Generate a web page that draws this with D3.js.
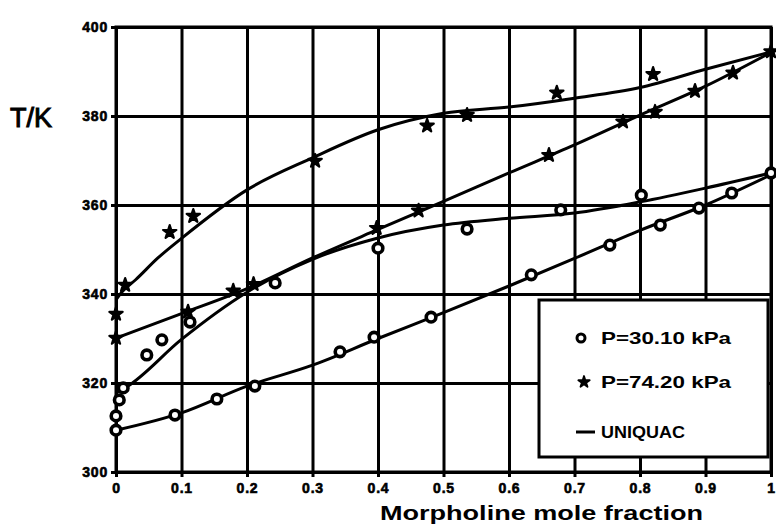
<!DOCTYPE html>
<html>
<head>
<meta charset="utf-8">
<script src="https://cdn.jsdelivr.net/npm/d3@7/dist/d3.min.js"></script>
<style>
  body { margin: 0; background: #fff; }
  text { font-family: "Liberation Sans", Arial, sans-serif; font-weight: bold; fill: #000; }
</style>
</head>
<body>
<script>
// ticks
const xTicks = [0, 0.1, 0.2, 0.3, 0.4, 0.5, 0.6, 0.7, 0.8, 0.9, 1];
const xTickLabels = ['0', '0.1', '0.2', '0.3', '0.4', '0.5', '0.6', '0.7', '0.8', '0.9', '1'];
const yTicks = [300, 320, 340, 360, 380, 400];

// experimental points, P = 30.10 kPa
const lowX = [0, 0, 0.005, 0.011, 0.047, 0.07, 0.113, 0.09, 0.154, 0.212, 0.243, 0.342, 0.394, 0.40, 0.481, 0.536, 0.634, 0.679, 0.754, 0.802, 0.831, 0.89, 0.94, 1.0];
const lowT = [309.4, 312.6, 316.2, 318.9, 326.3, 329.7, 333.7, 312.8, 316.4, 319.3, 342.5, 327.0, 330.3, 350.3, 334.8, 354.6, 344.3, 358.9, 351.0, 362.2, 355.5, 359.3, 362.7, 367.2];

// experimental points, P = 74.20 kPa
const highX = [0, 0, 0.014, 0.082, 0.118, 0.11, 0.179, 0.21, 0.304, 0.398, 0.462, 0.475, 0.536, 0.661, 0.673, 0.774, 0.82, 0.823, 0.884, 0.942, 1.0];
const highT = [330.1, 335.5, 342.0, 353.9, 357.5, 336.0, 340.7, 342.2, 369.9, 354.8, 358.7, 377.8, 380.2, 371.2, 385.2, 378.7, 389.4, 380.9, 385.6, 389.7, 394.5];

// UNIQUAC curves
const curveLowBubX = [0, 0.1, 0.2, 0.3, 0.4, 0.5, 0.6, 0.7, 0.8, 0.9, 1.0];
const curveLowBubT = [309.4, 313.3, 319.3, 324.0, 330.0, 335.8, 341.8, 348.0, 354.3, 360.0, 366.8];
const curveLowDewX = [0, 0.016, 0.1, 0.2, 0.3, 0.4, 0.5, 0.6, 0.7, 0.8, 0.9, 1.0];
const curveLowDewT = [317.8, 319.1, 329.8, 340.4, 347.8, 352.6, 355.5, 357.0, 358.2, 360.7, 363.8, 367.2];
const curveHighBubX = [0, 0.1, 0.2, 0.3, 0.4, 0.5, 0.6, 0.7, 0.8, 0.9, 1.0];
const curveHighBubT = [330.1, 335.6, 341.2, 348.1, 354.5, 360.8, 367.2, 373.5, 380.2, 386.7, 394.3];
const curveHighDewX = [0, 0.01, 0.03, 0.064, 0.1, 0.2, 0.3, 0.4, 0.5, 0.6, 0.7, 0.8, 0.9, 1.0];
const curveHighDewT = [338.7, 340.6, 343.2, 348.1, 352.5, 363.4, 370.6, 376.9, 380.6, 382.0, 384.0, 386.4, 390.5, 394.4];

const legendLabels = ['P=30.10 kPa', 'P=74.20 kPa', 'UNIQUAC'];

const margin = { top: 27, left: 116 };
const w = 655, h = 445;
const sw = 3; // line weight of the scan

const svg = d3.select('body').append('svg')
  .attr('width', 776).attr('height', 526);
const g = svg.append('g')
  .attr('transform', 'translate(' + margin.left + ',' + margin.top + ')');

const x = d3.scaleLinear().domain([0, 1]).range([0, w]);
const y = d3.scaleLinear().domain([300, 400]).range([h, 0]);

// grid
g.append('g').attr('class', 'grid')
  .attr('transform', 'translate(0,' + h + ')')
  .call(d3.axisBottom(x).tickValues(xTicks).tickSize(-h).tickFormat(''))
  .call(a => a.select('.domain').remove());
g.append('g').attr('class', 'grid')
  .call(d3.axisLeft(y).tickValues(yTicks).tickSize(-w).tickFormat(''))
  .call(a => a.select('.domain').remove());
g.selectAll('.grid line').attr('stroke', '#000').attr('stroke-width', sw);

// axes with labels
const xAxis = g.append('g')
  .attr('transform', 'translate(0,' + h + ')')
  .call(d3.axisBottom(x).tickValues(xTicks).tickSize(5).tickPadding(6)
    .tickFormat((d, i) => xTickLabels[i]));
const yAxis = g.append('g')
  .call(d3.axisLeft(y).tickValues(yTicks).tickSize(5).tickPadding(3));
[xAxis, yAxis].forEach(a => {
  a.select('.domain').attr('stroke', '#000').attr('stroke-width', sw);
  a.selectAll('line').attr('stroke', '#000').attr('stroke-width', sw);
  a.selectAll('text').style('font-size', '14px').style('font-weight', 'bold')
    .style('letter-spacing', '0.8px')
    .attr('stroke', '#000').attr('stroke-width', 0.6)
    .style('font-family', '"Liberation Sans", Arial, sans-serif');
});

// frame top/right
g.append('rect').attr('x', 0).attr('y', 0).attr('width', w).attr('height', h)
  .attr('fill', 'none').attr('stroke', '#000').attr('stroke-width', sw);

// curves
const line = d3.line().x(d => x(d[0])).y(d => y(d[1])).curve(d3.curveMonotoneX);
[[curveLowBubX, curveLowBubT], [curveLowDewX, curveLowDewT],
 [curveHighBubX, curveHighBubT], [curveHighDewX, curveHighDewT]].forEach(c => {
  g.append('path')
    .datum(c[0].map((v, i) => [v, c[1][i]]))
    .attr('fill', 'none').attr('stroke', '#000').attr('stroke-width', sw)
    .attr('d', line);
});

// markers
const star = d3.symbol().type(d3.symbolStar).size(55);
g.append('g').selectAll('path')
  .data(highX.map((v, i) => [v, highT[i]]))
  .enter().append('path')
  .attr('transform', d => 'translate(' + x(d[0]) + ',' + y(d[1]) + ')')
  .attr('d', star)
  .attr('fill', '#000').attr('stroke', '#000').attr('stroke-width', 2.2)
  .attr('stroke-linejoin', 'round');

g.append('g').selectAll('circle')
  .data(lowX.map((v, i) => [v, lowT[i]]))
  .enter().append('circle')
  .attr('cx', d => x(d[0])).attr('cy', d => y(d[1]))
  .attr('r', 4.8)
  .attr('fill', '#fff').attr('stroke', '#000').attr('stroke-width', 3.6);

// axis titles
svg.append('text').attr('x', 10).attr('y', 127)
  .style('font-size', '27px').style('font-weight', 'normal')
  .attr('stroke', '#000').attr('stroke-width', 1)
  .text('T/K');
svg.append('text').attr('x', 380).attr('y', 520)
  .attr('textLength', 323).attr('lengthAdjust', 'spacingAndGlyphs')
  .style('font-size', '21px')
  .text('Morpholine mole fraction');

// legend
const leg = svg.append('g').attr('transform', 'translate(539,300)');
leg.append('rect').attr('width', 229).attr('height', 157)
  .attr('fill', '#fff').attr('stroke', '#000').attr('stroke-width', sw);
leg.append('circle').attr('cx', 42).attr('cy', 38).attr('r', 4)
  .attr('fill', '#fff').attr('stroke', '#000').attr('stroke-width', 3);
leg.append('path').attr('transform', 'translate(45,82)')
  .attr('d', d3.symbol().type(d3.symbolStar).size(40))
  .attr('fill', '#000').attr('stroke', '#000').attr('stroke-width', 1.8)
  .attr('stroke-linejoin', 'round');
leg.append('line').attr('x1', 37).attr('x2', 56).attr('y1', 132).attr('y2', 132)
  .attr('stroke', '#000').attr('stroke-width', sw);
const legY = [44, 88, 138];
const legLen = [130, 130, 84];
legendLabels.forEach((t, i) => {
  leg.append('text').attr('x', 62).attr('y', legY[i])
    .attr('textLength', legLen[i]).attr('lengthAdjust', 'spacingAndGlyphs')
    .style('font-size', '17px')
    .text(t);
});
</script>
</body>
</html>
